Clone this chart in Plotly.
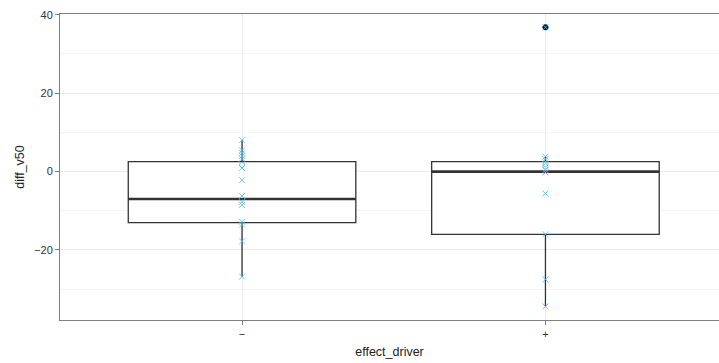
import plotly.graph_objects as go

# ---- data ----
categories = ["\u2212", "+"]
cat_pos = [1, 2]
q1 = [-13.0, -16.0]
median = [-7.0, 0.0]
q3 = [2.55, 2.55]
lower_whisker = [-26.8, -34.4]
upper_whisker = [8.0, 3.8]
outlier_x = [2]
outlier_y = [36.8]

pts_minus_x = [8.0, 5.4, 4.7, 4.0, 3.3, 0.9, -2.2, -6.2, -7.7, -8.5, -12.8, -13.5, -17.8, -26.8]
pts_minus_o = [1.7]
pts_plus_x = [36.8, 3.8, 3.2, 0.4, -0.2, -5.6, -16.0, -27.5, -34.4]
pts_plus_o = [1.9, 1.3]

y_ticks = [-20, 0, 20, 40]

BOX_W = 0.75
LINE = "#333333"
PT = "rgba(86,190,235,0.85)"

fig = go.Figure()

fig.add_trace(go.Box(
    x=cat_pos, q1=q1, median=median, q3=q3,
    lowerfence=lower_whisker, upperfence=upper_whisker,
    width=BOX_W, whiskerwidth=0, fillcolor="white",
    line=dict(color=LINE, width=1.3), boxpoints=False,
    hoverinfo="skip", showlegend=False,
))

# thicker median lines
for c, m in zip(cat_pos, median):
    fig.add_trace(go.Scatter(
        x=[c - BOX_W / 2, c + BOX_W / 2], y=[m, m], mode="lines",
        line=dict(color=LINE, width=2.6), showlegend=False, hoverinfo="skip",
    ))

fig.add_trace(go.Scatter(
    x=outlier_x, y=outlier_y, mode="markers",
    marker=dict(symbol="circle", size=6, color="#111111"),
    showlegend=False,
))

def add_pts(c, ys, sym, size):
    fig.add_trace(go.Scatter(
        x=[c] * len(ys), y=ys, mode="markers",
        marker=dict(symbol=sym, size=size, color=PT, line=dict(color=PT, width=1)),
        showlegend=False,
    ))

add_pts(1, pts_minus_x, "x-thin-open", 6)
add_pts(1, pts_minus_o, "circle-open", 5)
add_pts(2, pts_plus_x, "x-thin-open", 6)
add_pts(2, pts_plus_o, "circle-open", 5)

axis_common = dict(
    showline=True, linecolor="#7f7f7f", linewidth=1, mirror=True,
    ticks="outside", ticklen=4, tickcolor="#7f7f7f", tickwidth=1,
    zeroline=False, gridcolor="#ebebeb", gridwidth=1,
    tickfont=dict(family="Liberation Sans, Arial, sans-serif", size=11, color="#333333"),
)

fig.update_layout(
    width=719, height=363,
    margin=dict(l=60, r=0, t=14, b=43),
    plot_bgcolor="white", paper_bgcolor="white",
    font=dict(family="Liberation Sans, Arial, sans-serif", size=12, color="#222222"),
    xaxis=dict(
        **axis_common,
        range=[0.4, 2.572],
        tickvals=cat_pos, ticktext=categories,
        title=dict(text="effect_driver", standoff=8,
                   font=dict(size=12.5, color="#222222")),
    ),
    yaxis=dict(
        **axis_common,
        range=[-37.86, 40.2],
        tickvals=y_ticks,
        minor=dict(dtick=10, tick0=0, showgrid=True, gridcolor="#f5f5f5", ticks=""),
        title=dict(text="diff_v50", standoff=6,
                   font=dict(size=12.5, color="#222222")),
    ),
)

fig.write_html("out.html")
